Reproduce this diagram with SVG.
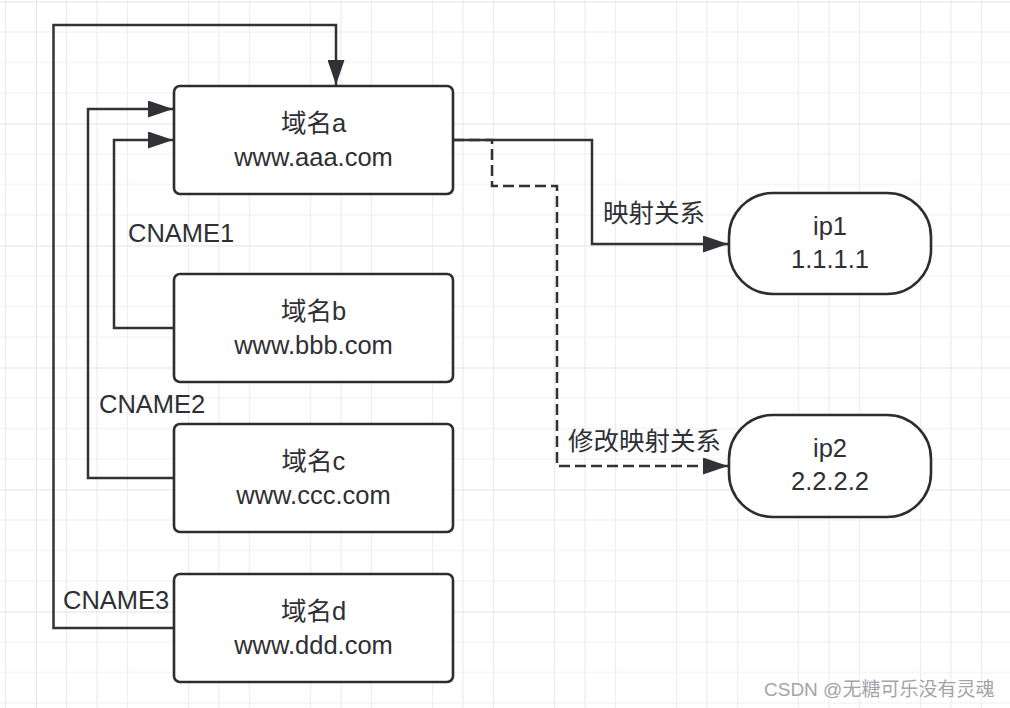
<svg xmlns="http://www.w3.org/2000/svg" width="1010" height="708" viewBox="0 0 1010 708">
<style>
.box{fill:#ffffff;stroke:#2b2d30;stroke-width:2.6}
.t{font-family:"Liberation Sans","Noto Sans CJK SC",sans-serif;font-size:25.5px;fill:#2e3034}
.c{text-anchor:middle}
.ln{fill:none;stroke:#303236;stroke-width:2.5}
.dash{stroke-dasharray:11 5}
.wm{font-family:"Liberation Sans","Noto Sans CJK SC",sans-serif;font-size:19px;fill:#a4a4a8}
</style>
<defs>
<pattern id="grid" patternUnits="userSpaceOnUse" x="36" y="1.5" width="122" height="122">
<path d="M30.5,0V122M61,0V122M91.5,0V122M0,30.5H122M0,61H122M0,91.5H122" stroke="#eeeef0" stroke-width="1.2" fill="none"/>
<path d="M0,0V122M0,0H122" stroke="#e2e2e6" stroke-width="1.8" fill="none"/>
</pattern>
<marker id="arr" markerUnits="userSpaceOnUse" markerWidth="25" markerHeight="17" refX="25" refY="8.5" orient="auto">
<path d="M0,0L25,8.5L0,17z" fill="#303236"/>
</marker>
</defs>
<rect width="1010" height="708" fill="#ffffff"/>
<rect width="1010" height="708" fill="url(#grid)"/>

<g id="connectors">
<path class="ln" d="M174,628H53.5V25H336V85" marker-end="url(#arr)"/>
<path class="ln" d="M174,478H88V109H173" marker-end="url(#arr)"/>
<path class="ln" d="M174,328H114V140H173" marker-end="url(#arr)"/>
<path class="ln dash" d="M453,140H492V186H557V466H728" marker-end="url(#arr)"/>
<path class="ln" d="M453,140H592V244H728" marker-end="url(#arr)"/>
<text class="t" x="603" y="222">映射关系</text>
<text class="t" x="568" y="450">修改映射关系</text>
<text class="t" x="128" y="242">CNAME1</text>
<text class="t" x="99" y="412.5">CNAME2</text>
<text class="t" x="63" y="609">CNAME3</text>
</g>

<g id="node-a">
<rect class="box" x="174" y="86" width="279" height="108" rx="6"/>
<text class="t c" x="313.5" y="131.5">域名a</text>
<text class="t c" x="313.5" y="165.5">www.aaa.com</text>
</g>
<g id="node-b">
<rect class="box" x="174" y="274" width="279" height="108" rx="6"/>
<text class="t c" x="313.5" y="319.5">域名b</text>
<text class="t c" x="313.5" y="353.5">www.bbb.com</text>
</g>
<g id="node-c">
<rect class="box" x="174" y="424" width="279" height="108" rx="6"/>
<text class="t c" x="313.5" y="469.5">域名c</text>
<text class="t c" x="313.5" y="503.5">www.ccc.com</text>
</g>
<g id="node-d">
<rect class="box" x="174" y="574" width="279" height="108" rx="6"/>
<text class="t c" x="313.5" y="619.5">域名d</text>
<text class="t c" x="313.5" y="653.5">www.ddd.com</text>
</g>
<g id="node-ip1">
<rect class="box" x="729" y="193" width="202" height="101" rx="44" ry="44"/>
<text class="t c" x="830" y="235">ip1</text>
<text class="t c" x="830" y="268">1.1.1.1</text>
</g>
<g id="node-ip2">
<rect class="box" x="729" y="415" width="202" height="102" rx="44" ry="44"/>
<text class="t c" x="830" y="457">ip2</text>
<text class="t c" x="830" y="489.5">2.2.2.2</text>
</g>
<text class="wm" x="764" y="696">CSDN @无糖可乐没有灵魂</text>
</svg>
